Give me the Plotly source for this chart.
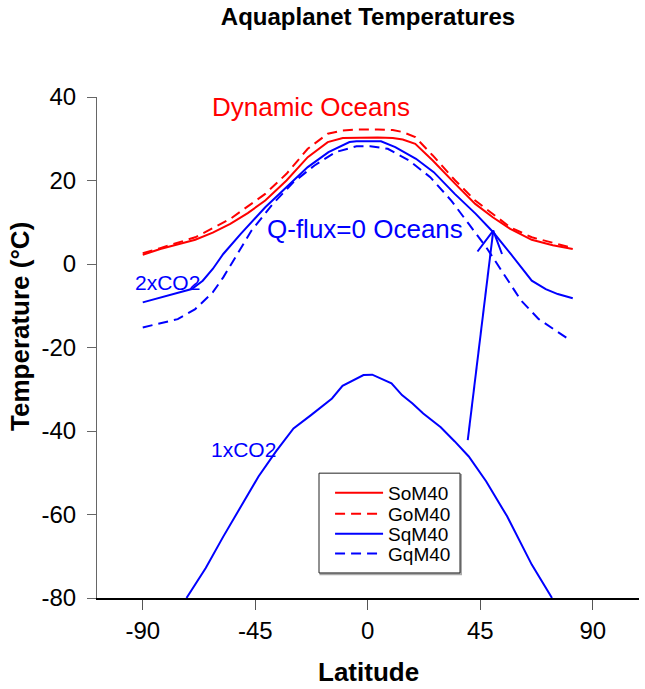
import plotly.graph_objects as go

# ---------------- data ----------------
som40_lat = [-90, -83, -69, -62, -55, -48, -41, -32.5, -24, -16, -10, -4, 4, 10, 14, 19, 26, 35, 43, 50, 57, 65.6, 74, 82]
som40_t = [2.2, 3.6, 5.8, 7.5, 9.6, 12.2, 15.2, 20, 25.6, 29.2, 30.2, 30.3, 30.3, 30.2, 29.8, 28.8, 24.8, 19.2, 14.4, 11.2, 8.4, 5.8, 4.5, 3.6]

gom40_lat = [-90, -83, -69, -55, -41, -32.5, -24, -16, -10, -4, 4, 10, 14, 19, 26, 35, 43, 50, 57, 65.6, 74, 81]
gom40_t = [2.6, 3.8, 6.4, 10.8, 16.8, 21.6, 27.6, 31.2, 32.0, 32.2, 32.2, 32.1, 31.6, 30.4, 26, 20, 15.2, 12, 8.8, 6.4, 5, 4]

sqm40_lat = [-90, -80, -70.4, -66, -62, -57.8, -50.8, -41, -32.5, -24, -15.7, -7.3, -4.5, 5.3, 11, 19.3, 26.4, 34.8, 43.2, 50.2, 57.2, 62.8, 65.6, 71.2, 76, 82]
sqm40_t = [-9.2, -7.6, -6, -4, -1.2, 2.4, 7.2, 13.6, 18.4, 23.2, 26.8, 29.2, 29.4, 29.4, 28, 25.2, 22, 16.8, 12, 7.6, 2.4, -2, -4, -6, -7.2, -8.2]

gqm40_lat = [-90, -76, -69, -62, -57.8, -52, -46.5, -38, -29.7, -21.3, -12.9, -4.5, 1, 8, 16.5, 25, 33.4, 40.4, 47.4, 54.4, 61.4, 68.4, 75.4, 80.3]
gqm40_t = [-15.2, -13.2, -10.8, -6.8, -3.2, 2.4, 8, 14.4, 19.6, 23.6, 26.8, 28.2, 28.2, 27.6, 24.8, 20.8, 15.2, 9.6, 4, -2.4, -8.8, -13.2, -16, -18]

sqm40_1x_lat = [-72.5, -64.8, -57.8, -50.8, -43.7, -36.7, -29.7, -22.7, -14.3, -10.1, -1.7, 1.8, 9.5, 13.7, 17.9, 22.2, 29.2, 34.8, 40.4, 47.4, 55.8, 65.6, 73.7]
sqm40_1x_t = [-80, -72.8, -65.3, -58.1, -50.9, -44.9, -39.4, -36.2, -32.2, -29.2, -26.6, -26.5, -28.6, -31.4, -33.4, -35.8, -39.1, -42.5, -46.1, -52.1, -60.5, -72, -80]

# arrow (tail -> tip, then barb -> tip -> barb)
arrow_lat = [40, 50.2, None, 43.9, 50.2, 53.7]
arrow_t = [-42.2, 8, None, 3.0, 8, 2.4]

x_ticks = [-90, -45, 0, 45, 90]
x_ticktext = ["-90", "-45", "0", "45", "90"]
y_ticks = [-80, -60, -40, -20, 0, 20, 40]
y_ticktext = ["-80", "-60", "-40", "-20", "0", "20", "40"]

RED = "#ff0000"
BLUE = "#0000ff"
FONT = "Liberation Sans, Arial, sans-serif"

fig = go.Figure()
lw = 2
fig.add_trace(go.Scatter(x=som40_lat, y=som40_t, mode="lines", name="SoM40", legend="legend",
                         line=dict(color=RED, width=lw)))
fig.add_trace(go.Scatter(x=gom40_lat, y=gom40_t, mode="lines", name="GoM40", legend="legend2",
                         line=dict(color=RED, width=lw, dash="10px,6px")))
fig.add_trace(go.Scatter(x=sqm40_lat, y=sqm40_t, mode="lines", name="SqM40", legend="legend3",
                         line=dict(color=BLUE, width=lw)))
fig.add_trace(go.Scatter(x=gqm40_lat, y=gqm40_t, mode="lines", name="GqM40", legend="legend4",
                         line=dict(color=BLUE, width=lw, dash="10px,6px")))
fig.add_trace(go.Scatter(x=sqm40_1x_lat, y=sqm40_1x_t, mode="lines", name="SqM40 1xCO2",
                         showlegend=False, line=dict(color=BLUE, width=lw)))
fig.add_trace(go.Scatter(x=arrow_lat, y=arrow_t, mode="lines", showlegend=False,
                         hoverinfo="skip", line=dict(color=BLUE, width=lw)))

# legend box (with slight shadow)
fig.add_shape(type="rect", xref="x", yref="y", x0=-19.0, x1=37.4, y0=-74.35, y1=-50.5,
              line=dict(color="#aaaaaa", width=1.5), fillcolor="#aaaaaa", layer="above")
fig.add_shape(type="rect", xref="x", yref="y", x0=-19.5, x1=36.9, y0=-74.0, y1=-50.1,
              line=dict(color="#222222", width=1), fillcolor="white", layer="above")

annos = [
    dict(x=-22.7, y=37.5, text="Dynamic Oceans", font=dict(color=RED, size=26)),
    dict(x=-1.3, y=8.5, text="Q-flux=0 Oceans", font=dict(color=BLUE, size=26)),
    dict(x=-80, y=-4.4, text="2xCO2", font=dict(color=BLUE, size=21)),
    dict(x=-49.9, y=-44.4, text="1xCO2", font=dict(color=BLUE, size=21)),
]
for a in annos:
    fig.add_annotation(xref="x", yref="y", showarrow=False, **a)

fig.add_annotation(xref="paper", yref="paper", x=-0.142, y=0.541, xanchor="center", yanchor="middle",
                   text="<b>Temperature (°C)</b>", textangle=-90, showarrow=False,
                   font=dict(size=26, color="black"))
fig.add_annotation(xref="paper", yref="paper", x=0.5, y=-0.147, xanchor="center", yanchor="middle",
                   text="<b>Latitude</b>", showarrow=False, font=dict(size=26, color="black"))

leg_common = dict(x=0.43, xanchor="left", yanchor="middle", bgcolor="rgba(0,0,0,0)",
                  borderwidth=0, font=dict(size=19, color="black"), itemwidth=48)
leg_rows_y = [0.2098, 0.168, 0.1281, 0.0883]

fig.update_layout(
    width=645, height=689,
    margin=dict(l=97, r=6, t=96.5, b=90.7),
    paper_bgcolor="white", plot_bgcolor="white",
    font=dict(family=FONT, color="black"),
    title=dict(text="<b>Aquaplanet Temperatures</b>", xref="paper", x=0.5, xanchor="center",
               yref="container", y=1 - 17 / 689, yanchor="middle", font=dict(size=24, color="black")),
    showlegend=True,
    legend=dict(y=leg_rows_y[0], **leg_common),
    legend2=dict(y=leg_rows_y[1], **leg_common),
    legend3=dict(y=leg_rows_y[2], **leg_common),
    legend4=dict(y=leg_rows_y[3], **leg_common),
    xaxis=dict(range=[-108.3, 108.5], tickvals=x_ticks, ticktext=x_ticktext, ticks="outside",
               ticklen=10, showline=True, linecolor="black", linewidth=1.5, tickcolor="#555",
               showgrid=False, zeroline=False, tickfont=dict(size=24)),
    yaxis=dict(range=[-80, 40], tickvals=y_ticks, ticktext=y_ticktext, ticks="outside", ticklen=9,
               showline=True, linecolor="#666", linewidth=1, tickcolor="#666",
               showgrid=False, zeroline=False, tickfont=dict(size=24), ticklabelstandoff=6),
)

fig.write_html("out.html", config={"displayModeBar": False},
               post_script="document.body.style.margin='0';document.body.style.overflow='hidden';")
